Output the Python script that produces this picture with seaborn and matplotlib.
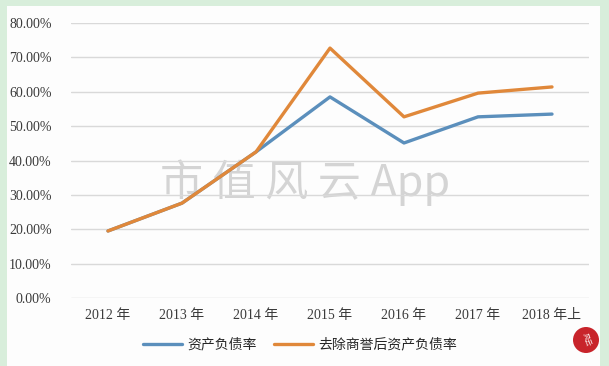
import matplotlib
matplotlib.use("Agg")
import matplotlib.pyplot as plt
import seaborn as sns
import pandas as pd
from matplotlib.patches import Rectangle, Ellipse
from matplotlib.lines import Line2D

years = ["2012 年", "2013 年", "2014 年", "2015 年", "2016 年", "2017 年", "2018 年上"]
debt_ratio = [19.5, 27.6, 42.5, 58.5, 45.1, 52.7, 53.5]
debt_ratio_ex_goodwill = [19.5, 27.6, 42.5, 72.7, 52.7, 59.6, 61.4]
series_names = ["资产负债率", "去除商誉后资产负债率"]
yticks = [0, 10, 20, 30, 40, 50, 60, 70, 80]
colors = ["#5b8fbc", "#e0883a"]

sns.set_theme(style="white")
fam = ["Liberation Serif", "Noto Sans CJK SC", "DejaVu Sans"]
plt.rcParams["font.family"] = fam

df = pd.DataFrame({
    "year": years * 2,
    "value": debt_ratio + debt_ratio_ex_goodwill,
    "series": [series_names[0]] * len(years) + [series_names[1]] * len(years),
})

fig = plt.figure(figsize=(6.09, 3.66), dpi=100)
fig.patch.set_facecolor("#d8eedb")

# white panel behind everything
bg = fig.add_axes([0, 0, 1, 1], zorder=-10)
bg.set_axis_off()
bg.set_xlim(0, 1)
bg.set_ylim(0, 1)
bg.add_patch(Rectangle((7 / 609, -0.05), (600 - 7) / 609, 0.05 + (366 - 6) / 366,
                       facecolor="#fdfdfd", edgecolor="none"))
bg.text(305 / 609, 1 - 183 / 366, "市 值 风 云 App", fontsize=31, color="#d4d4d4",
        ha="center", va="center", family=["Noto Sans CJK SC"])

ax = fig.add_axes([71 / 609, 1 - 298 / 366, (589 - 71) / 609, (298 - 23) / 366], zorder=1)
ax.set_facecolor("none")

sns.lineplot(data=df, x="year", y="value", hue="series", palette=colors,
             linewidth=2.4, ax=ax, legend=False, sort=False, zorder=3)

ax.set_xlim(-0.5, len(years) - 0.5)
ax.set_ylim(0, 80)
ax.set_yticks(yticks)
ax.set_yticklabels([f"{v:.2f}%" for v in yticks], fontsize=10, color="#3a3a3a")
ax.set_xticks(range(len(years)))
ax.set_xticklabels(years, fontsize=10, color="#3a3a3a")
ax.tick_params(axis="x", length=0, pad=8)
ax.tick_params(axis="y", length=0, pad=14)
ax.set_xlabel("")
ax.set_ylabel("")
for s in ax.spines.values():
    s.set_visible(False)
ax.yaxis.grid(True, color="#d9d9d9", linewidth=1, zorder=0)
ax.xaxis.grid(False)
ax.set_axisbelow(True)

# legend
handles = [Line2D([0], [0], color=c, linewidth=2.4) for c in colors]
fig.legend(handles, series_names, loc="center", bbox_to_anchor=(300 / 609, 1 - 345 / 366),
           ncol=2, frameon=False, fontsize=10, handlelength=2.8, columnspacing=1.2,
           handletextpad=0.4)

# logo
fig.patches.append(Ellipse((586 / 609, 1 - 340 / 366), 26 / 609, 26 / 366,
                           transform=fig.transFigure, facecolor="#c8242b",
                           edgecolor="none", zorder=5))
fig.text(586 / 609, 1 - 340 / 366, "风云", fontsize=5, color="white", ha="center",
         va="center", rotation=-70, family=["Noto Sans CJK SC"], zorder=6)

fig.savefig("out.png", dpi=100)
